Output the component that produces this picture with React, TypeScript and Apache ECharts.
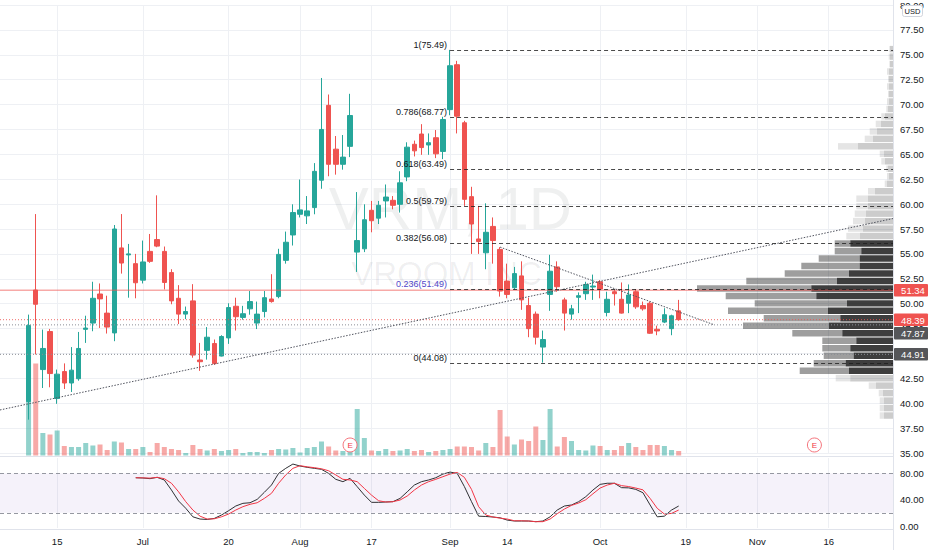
import React, { useEffect, useRef } from 'react';
import * as echarts from 'echarts';

// ---------- data ----------
const FIRST_CATEGORY_DATE = '2020-06-03';
const HOLIDAYS = ['2020-07-03', '2020-09-07', '2020-11-26'];
const LEAD = 4; // empty trading days before the first candle (IPO day 2020-06-09)
const CATEGORY_COUNT = 126;

// [open, close, low, high]
const OHLC: number[][] = [
  [40.17, 47.82, 38.35, 48.9], [51.37, 49.94, 44.9, 59.0], [43.38, 45.5, 41.53, 47.4], [47.2, 42.98, 41.6, 47.46],
  [40.47, 42.92, 39.94, 43.38], [43.18, 42.03, 41.43, 44.0], [42.03, 43.32, 41.13, 45.64], [42.46, 45.5, 42.26, 47.16],
  [47.42, 47.55, 46.06, 48.79], [48.05, 50.54, 47.23, 52.2], [50.97, 50.48, 47.56, 52.03], [49.05, 47.65, 47.0, 50.8],
  [47.06, 57.5, 46.23, 57.9], [55.6, 54.08, 53.02, 59.0], [54.9, 55.0, 50.6, 56.0], [54.02, 52.1, 50.54, 55.0],
  [52.36, 54.19, 52.03, 56.34], [55.25, 54.25, 54.1, 57.0], [56.44, 55.78, 55.67, 60.88], [55.25, 52.13, 51.43, 55.74],
  [53.12, 50.28, 49.94, 53.46], [50.54, 48.95, 47.95, 51.86], [48.95, 49.21, 48.45, 49.71], [50.28, 44.84, 44.57, 51.96],
  [44.34, 44.17, 43.25, 46.06], [45.31, 46.63, 44.38, 47.65], [46.0, 43.98, 43.85, 46.4], [44.74, 46.7, 44.7, 46.83],
  [46.56, 49.61, 45.96, 50.04], [49.74, 48.69, 47.3, 50.6], [48.62, 48.99, 48.39, 49.78], [49.48, 50.21, 48.89, 51.27],
  [48.05, 48.95, 47.45, 50.21], [49.21, 50.6, 48.62, 51.27], [50.47, 50.21, 50.1, 52.96], [50.71, 54.95, 50.54, 55.51],
  [54.35, 56.17, 54.02, 57.24], [56.9, 59.15, 55.84, 59.98], [58.98, 59.42, 58.66, 62.47], [58.82, 59.32, 58.0, 60.81],
  [59.65, 63.29, 58.98, 64.12], [62.4, 67.5, 61.54, 72.67], [69.92, 64.0, 62.8, 71.01], [65.52, 64.0, 62.96, 66.84],
  [64.0, 64.72, 63.46, 66.94], [65.8, 68.9, 64.72, 71.08], [55.18, 56.34, 53.19, 61.21], [55.51, 58.43, 55.18, 59.98],
  [59.38, 58.33, 57.17, 60.32], [58.59, 59.88, 58.0, 60.32], [60.32, 60.71, 58.66, 61.97], [60.38, 59.88, 59.48, 60.81],
  [59.98, 62.14, 59.15, 63.3], [62.73, 65.72, 62.3, 66.21], [66.01, 65.35, 64.79, 66.38], [67.04, 65.68, 64.95, 68.03],
  [65.94, 66.17, 64.95, 67.1], [66.67, 65.05, 64.62, 67.44], [65.29, 68.5, 64.52, 68.77], [69.49, 73.9, 68.93, 75.49],
  [74.0, 68.83, 67.1, 74.39], [68.17, 60.48, 59.82, 68.37], [60.75, 58.0, 55.0, 61.74], [56.5, 56.24, 55.0, 59.82],
  [55.11, 57.17, 53.46, 60.08], [57.76, 56.34, 54.02, 58.66], [55.45, 51.27, 50.71, 55.68], [52.27, 50.93, 50.54, 54.02],
  [51.6, 53.02, 51.4, 53.69], [52.79, 50.38, 49.38, 54.25], [49.81, 47.49, 46.63, 50.6], [48.95, 46.63, 45.9, 49.21],
  [45.64, 46.4, 44.08, 47.3], [50.93, 53.26, 49.28, 54.91], [53.69, 51.7, 51.2, 54.25], [50.38, 49.05, 47.3, 50.6],
  [48.95, 49.48, 48.39, 49.88], [50.64, 50.8, 49.05, 51.13], [51.0, 51.93, 50.38, 52.2], [51.67, 51.77, 50.38, 52.92],
  [52.2, 51.47, 50.54, 52.37], [49.12, 50.44, 48.72, 51.2], [51.2, 51.0, 49.81, 51.37], [50.44, 49.05, 49.0, 52.13],
  [50.04, 50.87, 49.05, 51.93], [51.2, 49.68, 49.48, 51.47], [49.81, 49.48, 49.3, 50.21], [50.04, 47.03, 46.96, 50.21],
  [47.43, 47.26, 46.83, 47.79], [48.15, 48.89, 48.05, 49.54], [47.49, 48.78, 46.83, 48.89], [49.28, 48.39, 48.29, 50.38],
];

// volume, millions of shares
const VOLUME: number[] = [
  21.8, 18.4, 4.5, 4.2, 5.0, 1.9, 1.7, 1.7, 2.5, 2.0, 2.2, 1.1, 2.8, 2.6, 1.3, 1.3,
  1.7, 0.7, 2.5, 1.7, 1.3, 1.1, 0.5, 2.1, 1.3, 1.0, 1.3, 0.9, 1.1, 1.3, 0.5, 0.7,
  0.7, 0.5, 1.1, 1.3, 1.2, 1.5, 0.6, 1.5, 1.7, 2.8, 1.8, 1.0, 0.9, 1.0, 9.3, 3.5,
  1.0, 0.9, 1.3, 0.9, 1.0, 1.3, 0.9, 1.1, 0.7, 0.9, 1.1, 1.3, 1.8, 1.8, 1.7, 1.0,
  2.5, 1.7, 9.1, 3.8, 2.2, 3.2, 2.9, 5.8, 3.1, 9.3, 1.8, 3.7, 2.9, 1.1, 1.0, 2.0,
  1.9, 1.1, 1.1, 1.9, 2.5, 1.7, 1.1, 2.1, 2.1, 1.9, 1.1, 0.9,
];

// Stochastic RSI, starting at candle index 15
const STOCH_START = 15;
const STOCH_K: number[] = [
  73.4, 73, 72, 74, 70, 54.7, 38, 27, 14, 10.6, 10, 11.6, 16.7, 23.3, 30.4, 34.5,
  35.4, 40.5, 51.2, 62.3, 80, 87.7, 94.2, 91.2, 89.2, 87.7, 86.2, 80, 71, 67.4, 72.5, 59.8,
  47, 36, 36, 36.5, 37, 42, 52, 62.3, 67.4, 70, 73.4, 79, 82, 80, 60, 37,
  15, 14.5, 13.7, 12.5, 9, 7.6, 7.6, 7.6, 6.6, 7.6, 14, 24.3, 30.4, 32, 37, 44.6,
  54.7, 63.3, 65, 65, 58.3, 58, 55.7, 50.6, 32, 14, 15, 24.3, 30.4,
];
const STOCH_D: number[] = [
  73.4, 73.2, 72.8, 74, 72, 65, 52, 37, 24.3, 15, 10.6, 11, 14, 18.2, 24.3, 29.4,
  33, 35.4, 42, 49.7, 65, 77.7, 87.7, 91.7, 90, 88.7, 87, 84, 77.7, 71, 70, 67.4,
  57.2, 47, 38.4, 36.5, 37, 39.5, 45.6, 54.7, 62.3, 67.4, 71, 75, 79, 81.5, 74, 55.7,
  29.4, 16.7, 13.7, 12, 10.6, 8, 8, 7.6, 6.6, 6.6, 10.6, 18.7, 25.8, 31.4, 35, 40,
  49, 57.7, 62.3, 65, 61.4, 60, 57.7, 55, 42, 26.9, 18.2, 19.2, 24.3,
];

// Visible-range volume profile, 50 rows from the range low to the range high (bottom row first)
const PROFILE_DOWN: number[] = [ // right (darker) part
  0.9, 0.9, 0.9, 1.0, 1.7, 4.27, 4.4, 4.73, 3.93, 4.27, 3.67, 5.07, 6.4, 5.27, 6.5, 4.6,
  7.67, 8.17, 5.6, 4.4, 3.33, 3.33, 3.17, 4.27, 3.3, 3.0, 2.8, 2.7, 2.5, 2.5, 1.8, 0.6,
  0.4, 0.5, 0.8, 0.9, 3.5, 2.0, 1.6, 1.2, 0.8, 0.5, 0.4, 0.4, 0.4, 0.4, 0.4, 0.3, 0.3, 0.3,
];
const PROFILE_UP: number[] = [ // left (lighter) part
  0.43, 0.43, 0.43, 0.43, 0.73, 1.46, 4.93, 3.2, 3.0, 2.8, 3.4, 5.0, 8.6, 7.66, 10.0, 9.23,
  9.06, 11.43, 9.07, 6.43, 5.84, 4.1, 2.66, 1.56, 1.37, 1.5, 1.2, 1.13, 1.17, 1.17, 0.7, 0.23,
  0.2, 0.17, 0.37, 0.43, 2.0, 0.83, 0.73, 0.53, 0.37, 0.17, 0.2, 0.1, 0.2, 0.1, 0.2, 0.07, 0.13, 0.07,
];
const VALUE_AREA_ROWS = [6, 23];

const TICK_LABELS: Record<string, string> = {
  '2020-06-15': '15', '2020-07-01': 'Jul', '2020-07-20': '20', '2020-08-03': 'Aug',
  '2020-08-17': '17', '2020-09-01': 'Sep', '2020-09-14': '14', '2020-10-01': 'Oct',
  '2020-10-19': '19', '2020-11-02': 'Nov', '2020-11-16': '16',
};

const FIB_RATIOS = ['1', '0.786', '0.618', '0.5', '0.382', '0.236', '0'];
const FIB_PRICES = [75.49, 68.77, 63.49, 59.79, 56.08, 51.49, 44.08];
const FIB_ANCHOR = 59; // candle index of the swing high

const TREND_UP = [{ d: 24, p: 43.63 }, { d: 66, p: 50.09 }];
const TREND_DOWN = [{ d: 66, p: 55.68 }, { d: 96, p: 47.87 }];
const EARNINGS = [45, 110];

const LINE_51 = 51.34;
const LAST_PRICE = 48.39;
const GRAY_LEVELS = [47.87, 44.91];

// ---------- helpers ----------
function tradingDays(start: string, count: number): string[] {
  const out: string[] = [];
  const d = new Date(start + 'T00:00:00Z');
  while (out.length < count) {
    const wd = d.getUTCDay();
    const s = d.toISOString().slice(0, 10);
    if (wd !== 0 && wd !== 6 && HOLIDAYS.indexOf(s) < 0) out.push(s);
    d.setUTCDate(d.getUTCDate() + 1);
  }
  return out;
}

const UP = '#26a69a';
const DOWN = '#ef5350';
const FONT = 'Liberation Sans, Arial, sans-serif';
const PANE_RIGHT = 893;

export default function App() {
  const ref = useRef<HTMLDivElement>(null);

  useEffect(() => {
    if (!ref.current) return;
    const chart = echarts.init(ref.current, undefined, { renderer: 'svg' });
    const cats = tradingDays(FIRST_CATEGORY_DATE, CATEGORY_COUNT);
    const isTick = (i: number) => TICK_LABELS[cats[i]] !== undefined;

    const candleData = OHLC.map((c, i) => [i + LEAD, c[0], c[1], c[2], c[3]]);
    const volData = VOLUME.map((v, i) => ({
      value: [i + LEAD, v],
      itemStyle: { color: OHLC[i][1] >= OHLC[i][0] ? 'rgba(38,166,154,0.5)' : 'rgba(239,83,80,0.5)' },
    }));
    const kData = STOCH_K.map((v, i) => [i + STOCH_START + LEAD, v]);
    const dData = STOCH_D.map((v, i) => [i + STOCH_START + LEAD, v]);

    let lo = Infinity, hi = -Infinity;
    OHLC.forEach((c) => { lo = Math.min(lo, c[2]); hi = Math.max(hi, c[3]); });
    const rows = PROFILE_DOWN.length;
    const step = (hi - lo) / rows;
    const profileData = PROFILE_DOWN.map((dn, k) => [
      lo + k * step, lo + (k + 1) * step, dn, PROFILE_UP[k],
      k >= VALUE_AREA_ROWS[0] && k <= VALUE_AREA_ROWS[1] ? 1 : 0,
    ]);

    const axisLabelStyle = { color: '#131722', fontSize: 9.5, fontFamily: FONT };
    const gridLine = { show: true, lineStyle: { color: '#eef0f4', width: 1 } };

    chart.setOption({
      animation: false,
      backgroundColor: '#ffffff',
      grid: [
        { left: 0, top: 0, width: PANE_RIGHT, height: 453 },
        { left: 0, top: 320, width: PANE_RIGHT, height: 135.5 },
        { left: 0, top: 458, width: PANE_RIGHT, height: 70 },
        { left: PANE_RIGHT - 300, top: 0, width: 300, height: 453 },
      ],
      xAxis: [
        {
          type: 'category', gridIndex: 0, data: cats, boundaryGap: false,
          axisLine: { show: false }, axisTick: { show: false }, axisLabel: { show: false },
          splitLine: { ...gridLine, interval: (i: number) => isTick(i) },
        },
        {
          type: 'category', gridIndex: 1, data: cats, boundaryGap: false,
          axisLine: { show: false }, axisTick: { show: false }, axisLabel: { show: false }, splitLine: { show: false },
        },
        {
          type: 'category', gridIndex: 2, data: cats, boundaryGap: false,
          axisLine: { show: false }, axisTick: { show: false },
          axisLabel: {
            ...axisLabelStyle, fontSize: 9.5, margin: 8, interval: (i: number) => isTick(i),
            formatter: (v: string) => TICK_LABELS[v] || '',
          },
          splitLine: { ...gridLine, interval: (i: number) => isTick(i) },
        },
        { type: 'value', gridIndex: 3, min: 0, max: 30, inverse: true, show: false },
      ],
      yAxis: [
        {
          type: 'value', gridIndex: 0, position: 'right', min: 35, max: 80, interval: 2.5,
          axisLine: { show: false }, axisTick: { show: false },
          axisLabel: { ...axisLabelStyle, margin: 7, formatter: (v: number) => v.toFixed(2) },
          splitLine: gridLine,
        },
        { type: 'value', gridIndex: 1, min: 0, max: 27.1, show: false },
        {
          type: 'value', gridIndex: 2, position: 'right', min: -3, max: 103.4,
          axisLine: { show: false }, axisTick: { show: false }, splitLine: { show: false },
          axisLabel: { ...axisLabelStyle, margin: 7, customValues: [0, 40, 80], formatter: (v: number) => v.toFixed(2) },
        },
        { type: 'value', gridIndex: 3, min: 35, max: 80, show: false },
      ],
      series: [
        {
          type: 'bar', name: 'Volume', xAxisIndex: 1, yAxisIndex: 1, data: volData,
          barWidth: 5, z: 1, silent: true,
        },
        {
          type: 'candlestick', name: 'VRM', xAxisIndex: 0, yAxisIndex: 0, data: candleData,
          encode: { x: 0, y: [1, 2, 3, 4] }, barWidth: 5, z: 3,
          itemStyle: { color: UP, color0: DOWN, borderColor: UP, borderColor0: DOWN, borderWidth: 1 },
        },
        {
          type: 'line', name: 'K', xAxisIndex: 2, yAxisIndex: 2, data: kData, showSymbol: false,
          lineStyle: { color: '#2f3033', width: 1 }, z: 3,
          markArea: {
            silent: true,
            itemStyle: { color: 'rgba(126,87,194,0.08)' },
            data: [[{ yAxis: 20 }, { yAxis: 80 }]],
          },
          markLine: {
            silent: true, symbol: 'none', label: { show: false },
            lineStyle: { color: '#9598a1', type: [4, 3], width: 1 },
            data: [{ yAxis: 80 }, { yAxis: 20 }],
          },
        },
        {
          type: 'line', name: 'D', xAxisIndex: 2, yAxisIndex: 2, data: dData, showSymbol: false,
          lineStyle: { color: '#f23645', width: 1 }, z: 3,
        },
        {
          type: 'custom', name: 'Volume profile', xAxisIndex: 3, yAxisIndex: 3, data: profileData,
          encode: { y: [0, 1], x: [2, 3] }, z: 4, silent: true,
          renderItem: (params: any, api: any) => {
            const pLo = api.value(0), pHi = api.value(1), dn = api.value(2), up = api.value(3), va = api.value(4);
            const top = api.coord([0, pHi]);
            const bot = api.coord([0, pLo]);
            const xR = top[0];
            const xMid = api.coord([dn, pHi])[0];
            const xL = api.coord([dn + up, pHi])[0];
            const y = top[1] + 0.5;
            const h = Math.max(bot[1] - top[1] - 1, 1);
            return {
              type: 'group',
              children: [
                { type: 'rect', shape: { x: xMid, y, width: xR - xMid, height: h },
                  style: { fill: va ? 'rgba(20,20,20,0.82)' : 'rgba(0,0,0,0.2)' } },
                { type: 'rect', shape: { x: xL, y, width: xMid - xL, height: h },
                  style: { fill: va ? 'rgba(0,0,0,0.38)' : 'rgba(0,0,0,0.1)' } },
              ],
            };
          },
        },
      ],
    });

    // ---------- annotations placed through the axes ----------
    const px = (d: number, p: number) => chart.convertToPixel({ gridIndex: 0 }, [d + LEAD, p]) as number[];
    const py = (p: number) => px(0, p)[1];
    const g: any[] = [];

    // watermark
    g.push({ type: 'text', x: PANE_RIGHT / 2 + 4, y: 208, z: 0, silent: true,
      style: { text: 'VRM, 1D', font: `60px ${FONT}`, fill: 'rgba(19,23,34,0.065)', align: 'center', verticalAlign: 'middle', textAlign: 'center', textVerticalAlign: 'middle' } });
    g.push({ type: 'text', x: PANE_RIGHT / 2, y: 273, z: 0, silent: true,
      style: { text: 'VROOM INC', font: `33px ${FONT}`, fill: 'rgba(19,23,34,0.065)', align: 'center', verticalAlign: 'middle', textAlign: 'center', textVerticalAlign: 'middle' } });

    // pane borders
    g.push({ type: 'line', z: 5, silent: true, shape: { x1: 0, y1: 456.5, x2: PANE_RIGHT, y2: 456.5 }, style: { stroke: '#e0e3eb', lineWidth: 1 } });
    g.push({ type: 'line', z: 5, silent: true, shape: { x1: 0, y1: 529.5, x2: PANE_RIGHT, y2: 529.5 }, style: { stroke: '#e0e3eb', lineWidth: 1 } });
    g.push({ type: 'line', z: 5, silent: true, shape: { x1: PANE_RIGHT + 0.5, y1: 0, x2: PANE_RIGHT + 0.5, y2: 550 }, style: { stroke: '#e0e3eb', lineWidth: 1 } });

    // horizontal price lines
    const y51 = py(LINE_51);
    g.push({ type: 'line', z: 8, silent: true, shape: { x1: 0, y1: y51, x2: PANE_RIGHT, y2: y51 }, style: { stroke: 'rgba(239,83,80,0.5)', lineWidth: 1.5 } });
    const yLast = py(LAST_PRICE);
    g.push({ type: 'line', z: 8, silent: true, shape: { x1: 0, y1: yLast, x2: PANE_RIGHT, y2: yLast }, style: { stroke: 'rgba(239,83,80,0.85)', lineWidth: 1, lineDash: [1, 2] } });
    GRAY_LEVELS.forEach((p) => {
      const y = py(p);
      g.push({ type: 'line', z: 8, silent: true, shape: { x1: 0, y1: y, x2: PANE_RIGHT, y2: y }, style: { stroke: '#8a8d95', lineWidth: 1, lineDash: [1, 2] } });
    });

    // trend lines
    const a0 = px(TREND_UP[0].d, TREND_UP[0].p), a1 = px(TREND_UP[1].d, TREND_UP[1].p);
    const sl = (a1[1] - a0[1]) / (a1[0] - a0[0]);
    g.push({ type: 'line', z: 8, silent: true,
      shape: { x1: 0, y1: a0[1] - sl * a0[0], x2: PANE_RIGHT, y2: a0[1] + sl * (PANE_RIGHT - a0[0]) },
      style: { stroke: '#50535e', lineWidth: 1, lineDash: [1.5, 1.5] } });
    const b0 = px(TREND_DOWN[0].d, TREND_DOWN[0].p), b1 = px(TREND_DOWN[1].d, TREND_DOWN[1].p);
    g.push({ type: 'line', z: 8, silent: true, shape: { x1: b0[0], y1: b0[1], x2: b1[0], y2: b1[1] },
      style: { stroke: '#50535e', lineWidth: 1, lineDash: [1.5, 1.5] } });

    // fibonacci retracement
    const fx = px(FIB_ANCHOR, 0)[0];
    FIB_PRICES.forEach((p, i) => {
      const y = Math.round(py(p)) + 0.5;
      g.push({ type: 'line', z: 9, silent: true, shape: { x1: fx, y1: y, x2: PANE_RIGHT, y2: y },
        style: { stroke: 'rgba(30,30,30,0.8)', lineWidth: 1, lineDash: [4, 3] } });
      g.push({ type: 'text', z: 9, silent: true, x: fx - 3, y: y - 1.5,
        style: { text: `${FIB_RATIOS[i]}(${p.toFixed(2)})`, font: `9px ${FONT}`,
          fill: FIB_RATIOS[i] === '0.236' ? '#5247c9' : '#131722',
          align: 'right', verticalAlign: 'bottom', textAlign: 'right', textVerticalAlign: 'bottom' } });
    });

    // earnings markers
    const volBase = chart.convertToPixel({ gridIndex: 1 }, [0, 0]) as number[];
    EARNINGS.forEach((d) => {
      const x = px(d, 0)[0];
      const y = volBase[1] - 10.5;
      g.push({ type: 'circle', z: 10, silent: true, shape: { cx: x, cy: y, r: 7 }, style: { fill: '#fff', stroke: '#f5737b', lineWidth: 1 } });
      g.push({ type: 'text', z: 11, silent: true, x, y: y + 0.5,
        style: { text: 'E', font: `8px ${FONT}`, fill: '#f23645', align: 'center', verticalAlign: 'middle', textAlign: 'center', textVerticalAlign: 'middle' } });
    });

    // price-axis boxes
    const boxes = [
      { p: LINE_51, color: DOWN },
      { p: LAST_PRICE, color: DOWN },
      { p: GRAY_LEVELS[0], color: '#555659' },
      { p: GRAY_LEVELS[1], color: '#555659' },
    ];
    const bh = 12.5;
    let prevBottom = -Infinity;
    boxes.forEach((b) => {
      let top = py(b.p) - bh / 2;
      if (top < prevBottom + 1) top = prevBottom + 1;
      prevBottom = top + bh;
      g.push({ type: 'rect', z: 20, silent: true, shape: { x: PANE_RIGHT + 1, y: top, width: 34, height: bh, r: 1 }, style: { fill: b.color } });
      g.push({ type: 'text', z: 21, silent: true, x: PANE_RIGHT + 20, y: top + bh / 2 + 0.5,
        style: { text: b.p.toFixed(2), font: `9.5px ${FONT}`, fill: '#ffffff', align: 'center', verticalAlign: 'middle', textAlign: 'center', textVerticalAlign: 'middle' } });
    });

    // currency tag
    g.push({ type: 'rect', z: 20, silent: true, shape: { x: 902.5, y: 5.5, width: 20, height: 11, r: 2 }, style: { fill: '#fff', stroke: '#d1d4dc', lineWidth: 1 } });
    g.push({ type: 'text', z: 21, silent: true, x: 912.5, y: 11.5,
      style: { text: 'USD', font: `7.5px ${FONT}`, fill: '#131722', align: 'center', verticalAlign: 'middle', textAlign: 'center', textVerticalAlign: 'middle' } });

    chart.setOption({ graphic: { elements: g } });

    return () => chart.dispose();
  }, []);

  return <div ref={ref} style={{ position: 'absolute', left: 0, top: 0, width: 932, height: 550 }} />;
}
